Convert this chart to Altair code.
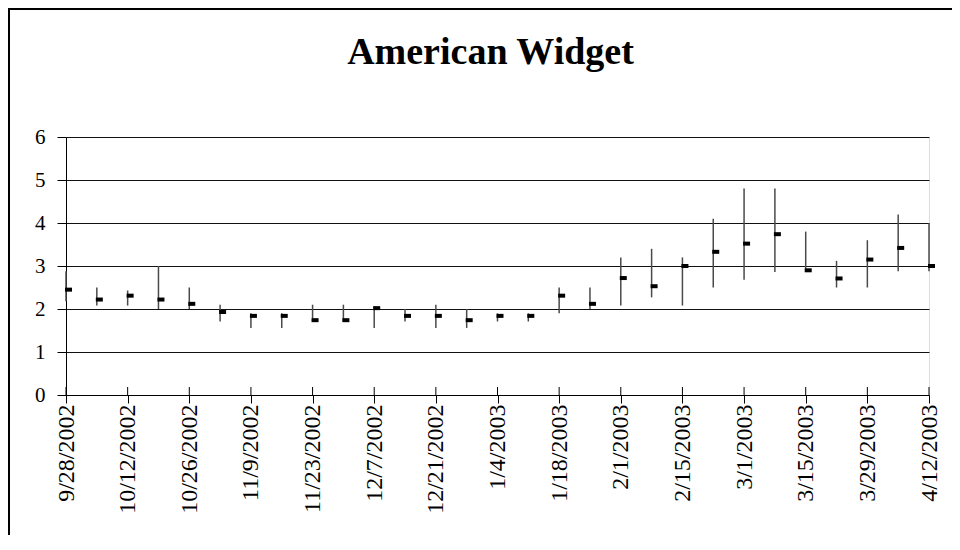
import altair as alt
import pandas as pd

title_text = "American Widget"

dates = ["9/28/2002", "10/5/2002", "10/12/2002", "10/19/2002", "10/26/2002",
         "11/2/2002", "11/9/2002", "11/16/2002", "11/23/2002", "11/30/2002",
         "12/7/2002", "12/14/2002", "12/21/2002", "12/28/2002", "1/4/2003",
         "1/11/2003", "1/18/2003", "1/25/2003", "2/1/2003", "2/8/2003",
         "2/15/2003", "2/22/2003", "3/1/2003", "3/8/2003", "3/15/2003",
         "3/22/2003", "3/29/2003", "4/5/2003", "4/12/2003"]

high = [2.88, 2.5, 2.43, 3.0, 2.5, 2.1, 1.9, 1.9, 2.1, 2.1, 2.06, 2.0, 2.1, 2.0, 1.9,
        1.9, 2.5, 2.5, 3.2, 3.4, 3.2, 4.1, 4.8, 4.8, 3.8, 3.12, 3.6, 4.2, 4.0]
low = [2.18, 2.08, 2.08, 2.0, 2.0, 1.71, 1.56, 1.56, 1.71, 1.71, 1.56, 1.71, 1.56, 1.56, 1.71,
       1.71, 1.9, 2.0, 2.08, 2.27, 2.08, 2.5, 2.68, 2.86, 2.9, 2.5, 2.5, 2.88, 2.88]
close = [2.45, 2.22, 2.31, 2.22, 2.12, 1.93, 1.84, 1.84, 1.74, 1.74, 2.02, 1.84, 1.84, 1.74, 1.84,
         1.84, 2.31, 2.12, 2.72, 2.53, 3.0, 3.33, 3.52, 3.74, 2.9, 2.71, 3.15, 3.42, 3.0]

tick_labels = dates[::2]
y_ticks = [0, 1, 2, 3, 4, 5, 6]

W, H = 863, 258
FONT = "Liberation Serif"

df = pd.DataFrame({"date": dates, "high": high, "low": low, "close": close})

xscale = alt.Scale(type="point", domain=dates, padding=0)
x_axis = alt.Axis(values=tick_labels, labelAngle=-90, labelFont=FONT, labelFontSize=24,
                  labelColor="black", labelPadding=1, tickSize=8, tickColor="black",
                  domainColor="black", grid=False, title=None, labelOverlap=False,
                  labelBaseline="middle", labelAlign="right")
y_axis = alt.Axis(values=y_ticks, labelFont=FONT, labelFontSize=21, labelColor="black",
                  labelPadding=12, tickSize=9, tickColor="black", domainColor="black",
                  grid=True, gridColor="#111111", gridWidth=1, title=None)

base = alt.Chart(df)

hl = base.mark_rule(color="#4a4a4a", strokeWidth=1.5).encode(
    x=alt.X("date:N", scale=xscale, axis=x_axis),
    y=alt.Y("low:Q", scale=alt.Scale(domain=[0, 6], nice=False), axis=y_axis),
    y2="high:Q",
)

cl = base.mark_tick(color="black", thickness=4, size=7, xOffset=2.5, opacity=1).encode(
    x=alt.X("date:N", scale=xscale),
    y=alt.Y("close:Q"),
)

inner_ticks = alt.Chart(pd.DataFrame({"date": tick_labels})).mark_rule(
    color="black", strokeWidth=1
).encode(
    x=alt.X("date:N", scale=xscale),
    y=alt.value(H - 8),
    y2=alt.value(H),
)

title_mark = alt.Chart(pd.DataFrame({"t": [title_text]})).mark_text(
    font=FONT, fontSize=38, fontWeight="bold", color="black", align="center",
    baseline="alphabetic"
).encode(
    text="t:N",
    x=alt.value(424.5),
    y=alt.value(-73),
)

frame = pd.DataFrame({"b": [1]})
border_top = alt.Chart(frame).mark_rule(color="black", strokeWidth=2).encode(
    x=alt.value(-58), x2=alt.value(900), y=alt.value(-128),
)
border_left = alt.Chart(frame).mark_rule(color="black", strokeWidth=2).encode(
    x=alt.value(-57), y=alt.value(-129), y2=alt.value(420),
)

chart = alt.layer(border_top, border_left, hl, inner_ticks, cl, title_mark).properties(
    width=W, height=H,
    autosize=alt.AutoSizeParams(type="none"),
    padding={"left": 58, "top": 129, "right": 23, "bottom": 140},
).configure_view(stroke="#808080", strokeWidth=1.5).configure(background="white")

chart.save("out.html", embed_options={"renderer": "svg", "actions": False})
